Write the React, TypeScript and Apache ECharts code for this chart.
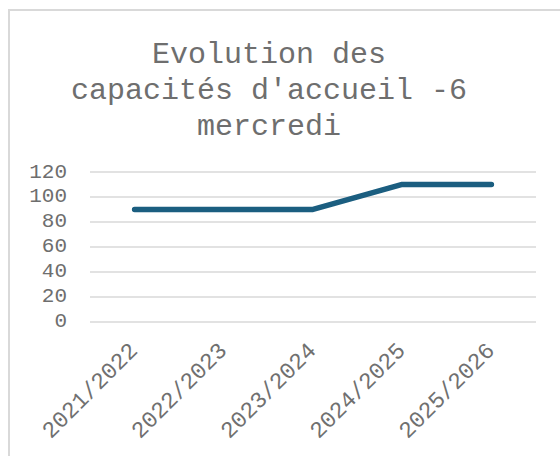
import React, { useEffect, useRef } from "react";
import * as echarts from "echarts";

const categories = ["2021/2022", "2022/2023", "2023/2024", "2024/2025", "2025/2026"];
const capacities = [90, 90, 90, 110, 110];
const titleLines = ["Evolution des", "capacités d'accueil -6", "mercredi"];

export default function App() {
  const ref = useRef<HTMLDivElement>(null);
  useEffect(() => {
    if (!ref.current) return;
    const chart = echarts.init(ref.current, null, { renderer: "svg" });
    const mono = "'Liberation Mono', 'Courier New', monospace";
    chart.setOption({
      animation: false,
      backgroundColor: "#ffffff",
      graphic: [
        {
          type: "rect",
          shape: { x: 9, y: 10, width: 600, height: 500 },
          style: { fill: "none", stroke: "#d9d9d9", lineWidth: 2 },
          silent: true,
        },
      ],
      title: {
        text: titleLines.join("\n"),
        left: 264,
        top: 32,
        textAlign: "center",
        textStyle: {
          fontFamily: mono,
          fontSize: 30,
          fontWeight: "normal",
          color: "#6e6e6e",
          lineHeight: 36,
        },
      },
      grid: { left: 90, right: 24, top: 172, bottom: 134.5 },
      xAxis: {
        type: "category",
        data: categories,
        boundaryGap: true,
        axisLine: { show: false },
        axisTick: { show: false },
        axisLabel: {
          rotate: 45,
          margin: 26,
          fontFamily: mono,
          fontSize: 23,
          color: "#707070",
          interval: 0,
        },
      },
      yAxis: {
        type: "value",
        min: 0,
        max: 120,
        interval: 20,
        axisLine: { show: false },
        axisTick: { show: false },
        axisLabel: {
          margin: 23,
          fontFamily: mono,
          fontSize: 21,
          color: "#6e6e6e",
        },
        splitLine: { lineStyle: { color: "#d9d9d9", width: 1.5 } },
      },
      series: [
        {
          type: "line",
          data: capacities,
          showSymbol: false,
          symbol: "none",
          lineStyle: { color: "#1b5e80", width: 5.5, cap: "round", join: "round" },
        },
      ],
    });
    return () => chart.dispose();
  }, []);
  return (
    <div
      ref={ref}
      style={{ position: "absolute", left: 0, top: 0, width: 560, height: 456 }}
    />
  );
}
